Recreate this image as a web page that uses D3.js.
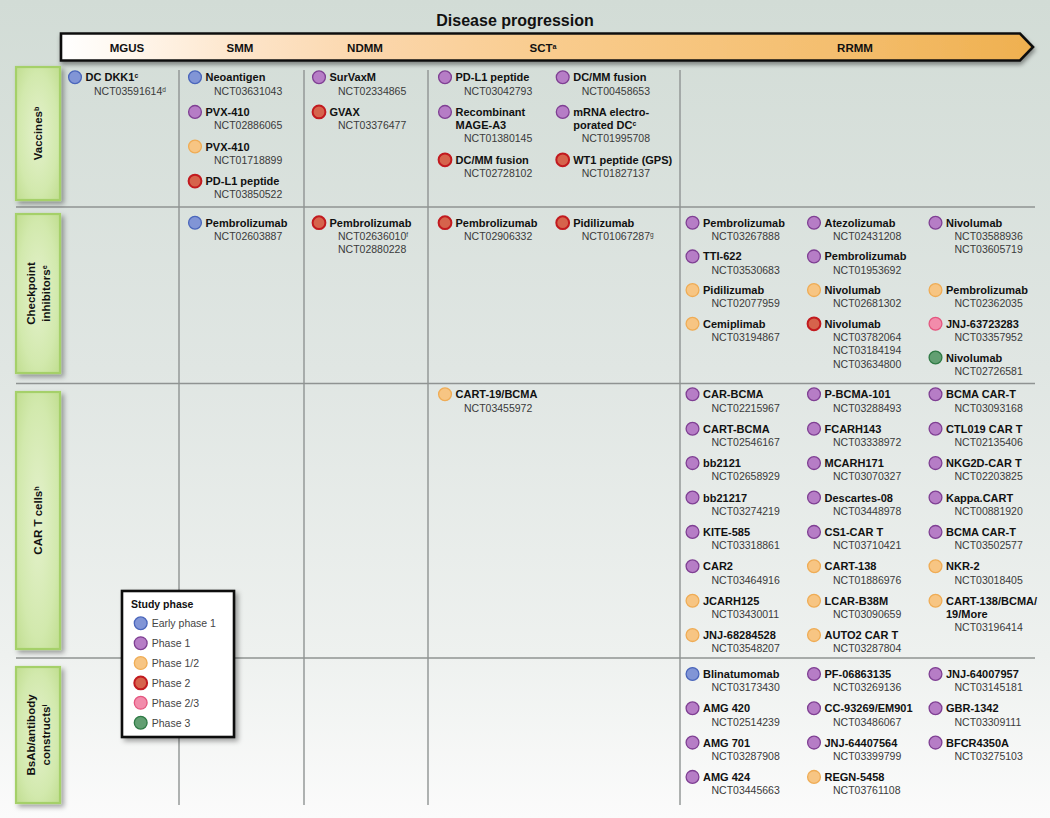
<!DOCTYPE html>
<html><head><meta charset="utf-8">
<script src="https://cdn.jsdelivr.net/npm/d3@7"></script>
<style>body{margin:0;background:#fff}svg{display:block;font-family:"Liberation Sans",Arial,sans-serif}</style>
</head><body><svg id="c" width="1050" height="818"></svg>
<script>
// ---------- DATA ----------
const stages = ["MGUS", "SMM", "NDMM", "SCT", "RRMM"];
const stageLabels = ["MGUS", "SMM", "NDMM", "SCT^a", "RRMM"];
const categories = ["vaccines", "checkpoint", "cart", "bsab"];
const categoryLabels = [["Vaccines^b"], ["Checkpoint", "inhibitors^e"], ["CAR T cells^h"], ["BsAb/antibody", "constructs^i"]];
const phases = ["E1", "P1", "P12", "P2", "P23", "P3"];
const phaseLabels = ["Early phase 1", "Phase 1", "Phase 1/2", "Phase 2", "Phase 2/3", "Phase 3"];

// [stage, sub-column, phase, name lines, NCT ids]
const vaccineTrials = [
  ["MGUS", 0, "E1", ["DC DKK1^c"], ["NCT03591614^d"]],
  ["SMM", 0, "E1", ["Neoantigen"], ["NCT03631043"]],
  ["SMM", 0, "P1", ["PVX-410"], ["NCT02886065"]],
  ["SMM", 0, "P12", ["PVX-410"], ["NCT01718899"]],
  ["SMM", 0, "P2", ["PD-L1 peptide"], ["NCT03850522"]],
  ["NDMM", 0, "P1", ["SurVaxM"], ["NCT02334865"]],
  ["NDMM", 0, "P2", ["GVAX"], ["NCT03376477"]],
  ["SCT", 0, "P1", ["PD-L1 peptide"], ["NCT03042793"]],
  ["SCT", 0, "P1", ["Recombinant", "MAGE-A3"], ["NCT01380145"]],
  ["SCT", 0, "P2", ["DC/MM fusion"], ["NCT02728102"]],
  ["SCT", 1, "P1", ["DC/MM fusion"], ["NCT00458653"]],
  ["SCT", 1, "P1", ["mRNA electro-", "porated DC^c"], ["NCT01995708"]],
  ["SCT", 1, "P2", ["WT1 peptide (GPS)"], ["NCT01827137"]]
];
const checkpointTrials = [
  ["SMM", 0, "E1", ["Pembrolizumab"], ["NCT02603887"]],
  ["NDMM", 0, "P2", ["Pembrolizumab"], ["NCT02636010^f", "NCT02880228"]],
  ["SCT", 0, "P2", ["Pembrolizumab"], ["NCT02906332"]],
  ["SCT", 1, "P2", ["Pidilizumab"], ["NCT01067287^g"]],
  ["RRMM", 0, "P1", ["Pembrolizumab"], ["NCT03267888"]],
  ["RRMM", 0, "P1", ["TTI-622"], ["NCT03530683"]],
  ["RRMM", 0, "P12", ["Pidilizumab"], ["NCT02077959"]],
  ["RRMM", 0, "P12", ["Cemiplimab"], ["NCT03194867"]],
  ["RRMM", 1, "P1", ["Atezolizumab"], ["NCT02431208"]],
  ["RRMM", 1, "P1", ["Pembrolizumab"], ["NCT01953692"]],
  ["RRMM", 1, "P12", ["Nivolumab"], ["NCT02681302"]],
  ["RRMM", 1, "P2", ["Nivolumab"], ["NCT03782064", "NCT03184194", "NCT03634800"]],
  ["RRMM", 2, "P1", ["Nivolumab"], ["NCT03588936", "NCT03605719"]],
  ["RRMM", 2, "P12", ["Pembrolizumab"], ["NCT02362035"]],
  ["RRMM", 2, "P23", ["JNJ-63723283"], ["NCT03357952"]],
  ["RRMM", 2, "P3", ["Nivolumab"], ["NCT02726581"]]
];
const carTTrials = [
  ["SCT", 0, "P12", ["CART-19/BCMA"], ["NCT03455972"]],
  ["RRMM", 0, "P1", ["CAR-BCMA"], ["NCT02215967"]],
  ["RRMM", 0, "P1", ["CART-BCMA"], ["NCT02546167"]],
  ["RRMM", 0, "P1", ["bb2121"], ["NCT02658929"]],
  ["RRMM", 0, "P1", ["bb21217"], ["NCT03274219"]],
  ["RRMM", 0, "P1", ["KITE-585"], ["NCT03318861"]],
  ["RRMM", 0, "P1", ["CAR2"], ["NCT03464916"]],
  ["RRMM", 0, "P12", ["JCARH125"], ["NCT03430011"]],
  ["RRMM", 0, "P12", ["JNJ-68284528"], ["NCT03548207"]],
  ["RRMM", 1, "P1", ["P-BCMA-101"], ["NCT03288493"]],
  ["RRMM", 1, "P1", ["FCARH143"], ["NCT03338972"]],
  ["RRMM", 1, "P1", ["MCARH171"], ["NCT03070327"]],
  ["RRMM", 1, "P1", ["Descartes-08"], ["NCT03448978"]],
  ["RRMM", 1, "P1", ["CS1-CAR T"], ["NCT03710421"]],
  ["RRMM", 1, "P12", ["CART-138"], ["NCT01886976"]],
  ["RRMM", 1, "P12", ["LCAR-B38M"], ["NCT03090659"]],
  ["RRMM", 1, "P12", ["AUTO2 CAR T"], ["NCT03287804"]],
  ["RRMM", 2, "P1", ["BCMA CAR-T"], ["NCT03093168"]],
  ["RRMM", 2, "P1", ["CTL019 CAR T"], ["NCT02135406"]],
  ["RRMM", 2, "P1", ["NKG2D-CAR T"], ["NCT02203825"]],
  ["RRMM", 2, "P1", ["Kappa.CART"], ["NCT00881920"]],
  ["RRMM", 2, "P1", ["BCMA CAR-T"], ["NCT03502577"]],
  ["RRMM", 2, "P12", ["NKR-2"], ["NCT03018405"]],
  ["RRMM", 2, "P12", ["CART-138/BCMA/", "19/More"], ["NCT03196414"]]
];
const bsabTrials = [
  ["RRMM", 0, "E1", ["Blinatumomab"], ["NCT03173430"]],
  ["RRMM", 0, "P1", ["AMG 420"], ["NCT02514239"]],
  ["RRMM", 0, "P1", ["AMG 701"], ["NCT03287908"]],
  ["RRMM", 0, "P1", ["AMG 424"], ["NCT03445663"]],
  ["RRMM", 1, "P1", ["PF-06863135"], ["NCT03269136"]],
  ["RRMM", 1, "P1", ["CC-93269/EM901"], ["NCT03486067"]],
  ["RRMM", 1, "P1", ["JNJ-64407564"], ["NCT03399799"]],
  ["RRMM", 1, "P12", ["REGN-5458"], ["NCT03761108"]],
  ["RRMM", 2, "P1", ["JNJ-64007957"], ["NCT03145181"]],
  ["RRMM", 2, "P1", ["GBR-1342"], ["NCT03309111"]],
  ["RRMM", 2, "P1", ["BFCR4350A"], ["NCT03275103"]]
];
const trialsByCategory = [vaccineTrials, checkpointTrials, carTTrials, bsabTrials];

// ---------- STYLE / LAYOUT ----------
const phaseFill = d3.scaleOrdinal(phases, ["#8195d6", "#b67dc6", "#f7c583", "#d6634c", "#f28cab", "#629f72"]);
const phaseStroke = d3.scaleOrdinal(phases, ["#4a66bb", "#7f3f93", "#efac55", "#c21a1f", "#e4567f", "#2f7a45"]);

const colLeft = d3.scaleOrdinal(stages, [61, 179, 304, 428, 680]);
const markX = d3.scaleOrdinal(stages, [75, 195, 319, 445, 692.5]);
const subW = d3.scaleOrdinal(stages, [0, 0, 0, 117.7, 121.5]);
const stageLabelX = d3.scaleOrdinal(stages, [127, 240, 365, 543, 855]);

const rowLines = [207, 383.5, 658];
const rowFirst = d3.scaleOrdinal(categories, [77.3, 222.7, 394.3, 674]);
const rowPitch = d3.scaleOrdinal(categories, [34.6, 33.7, 34.4, 34.3]);
const labelBox = d3.scaleOrdinal(categories, [[67, 200], [214, 373], [392, 649], [667, 803]]);
const lineH = 13.3;
const gridTop = 70, gridBottom = 805, gridLeft = 16, gridRight = 1035;

const svg = d3.select("#c");
const defs = svg.append("defs");

const bg = defs.append("linearGradient").attr("id", "bg").attr("x1", 0).attr("y1", 0).attr("x2", 0).attr("y2", 1);
bg.append("stop").attr("offset", 0).attr("stop-color", "#d2dcd6");
bg.append("stop").attr("offset", 0.45).attr("stop-color", "#e0e6e3");
bg.append("stop").attr("offset", 0.8).attr("stop-color", "#eef1ef");
bg.append("stop").attr("offset", 1).attr("stop-color", "#fbfbfb");

const ag = defs.append("linearGradient").attr("id", "arrowG").attr("x1", 0).attr("y1", 0).attr("x2", 1).attr("y2", 0);
[[0, "#ffffff"], [0.06, "#fff8f0"], [0.2, "#fde3c6"], [0.32, "#fbd6ab"], [0.5, "#f9cc8e"], [0.8, "#f4be6e"], [1, "#efb04f"]]
  .forEach(([o, c]) => ag.append("stop").attr("offset", o).attr("stop-color", c));

const lg = defs.append("radialGradient").attr("id", "labG").attr("cx", 0.5).attr("cy", 0.5).attr("r", 0.75);
lg.append("stop").attr("offset", 0).attr("stop-color", "#e4f1cc");
lg.append("stop").attr("offset", 0.6).attr("stop-color", "#d2e9ad");
lg.append("stop").attr("offset", 1).attr("stop-color", "#bddb8a");

const sh = defs.append("filter").attr("id", "shadow").attr("x", "-20%").attr("y", "-20%").attr("width", "150%").attr("height", "150%");
sh.append("feDropShadow").attr("dx", 3).attr("dy", 3).attr("stdDeviation", 2.5).attr("flood-color", "#000").attr("flood-opacity", 0.35);
const sh2 = defs.append("filter").attr("id", "shadow2").attr("x", "-10%").attr("y", "-30%").attr("width", "120%").attr("height", "180%");
sh2.append("feDropShadow").attr("dx", 1).attr("dy", 3).attr("stdDeviation", 2).attr("flood-color", "#000").attr("flood-opacity", 0.4);

svg.append("rect").attr("width", 1050).attr("height", 818).attr("fill", "url(#bg)");

// rich text with ^x superscripts
function rich(sel, str) {
  const parts = str.split(/\^(\w)/);
  parts.forEach((p, i) => {
    if (!p) return;
    if (i % 2 === 1) {
      sel.append("tspan").attr("dy", "-0.42em").attr("font-size", "0.62em").text(p);
      if (i + 1 < parts.length && parts[i + 1]) sel.append("tspan").attr("dy", "0.42em").text("");
    } else {
      sel.append("tspan").text(p);
    }
  });
  return sel;
}

// title
svg.append("text").attr("x", 515).attr("y", 25.5).attr("text-anchor", "middle")
  .attr("font-size", 16).attr("font-weight", "bold").attr("fill", "#111").text("Disease progression");

// arrow
svg.append("path").attr("d", "M61,33.5 H1020 L1033,47 L1020,60.5 H61 Z")
  .attr("fill", "url(#arrowG)").attr("stroke", "#111").attr("stroke-width", 2.6)
  .attr("stroke-linejoin", "miter").attr("filter", "url(#shadow2)");
stages.forEach((s, i) => {
  rich(svg.append("text").attr("x", stageLabelX(s)).attr("y", 51.5).attr("text-anchor", "middle")
    .attr("font-size", 11.5).attr("font-weight", "bold").attr("fill", "#111"), stageLabels[i]);
});

// grid lines
const gl = svg.append("g").attr("stroke", "#8f9392").attr("stroke-width", 1.4);
stages.slice(1).forEach(s => gl.append("line").attr("x1", colLeft(s)).attr("x2", colLeft(s)).attr("y1", gridTop).attr("y2", gridBottom));
rowLines.forEach(y => gl.append("line").attr("x1", gridLeft).attr("x2", gridRight).attr("y1", y).attr("y2", y));

// row labels
categories.forEach((c, ci) => {
  const [y0, y1] = labelBox(c);
  svg.append("rect").attr("x", 16).attr("y", y0).attr("width", 44).attr("height", y1 - y0)
    .attr("fill", "url(#labG)").attr("stroke", "#a5d069").attr("stroke-width", 2.2).attr("filter", "url(#shadow)");
  const lines = categoryLabels[ci];
  const cy = (y0 + y1) / 2;
  lines.forEach((l, li) => {
    const cx = 38 + (li - (lines.length - 1) / 2) * 15;
    rich(svg.append("text").attr("transform", `translate(${cx + 4},${cy}) rotate(-90)`)
      .attr("text-anchor", "middle").attr("font-size", 11.5).attr("font-weight", "bold").attr("fill", "#111"), l);
  });
});

// trial entries
categories.forEach((c, ci) => {
  const trials = trialsByCategory[ci].map(t => ({ stage: t[0], sub: t[1], phase: t[2], names: t[3], ncts: t[4] }));
  const groups = d3.group(trials, d => d.stage + "|" + d.sub);
  groups.forEach(list => {
    const first = rowFirst(c), pitch = rowPitch(c);
    let y = first;
    list.forEach(t => {
      t.x = markX(t.stage) + t.sub * subW(t.stage);
      t.y = y;
      const n = t.names.length + t.ncts.length;
      if (t.stage === "RRMM") {
        const next = y + n * lineH + 7.5;
        y = first + Math.ceil((next - first) / pitch - 0.15) * pitch;
      } else {
        y += pitch + (n - 2) * lineH;
      }
    });
  });
  const g = svg.append("g").selectAll("g").data(trials).join("g")
    .attr("transform", d => `translate(${d.x},${d.y})`);
  g.append("circle").attr("r", 6.4)
    .attr("fill", d => phaseFill(d.phase)).attr("stroke", d => phaseStroke(d.phase))
    .attr("stroke-width", d => d.phase === "P2" ? 2 : 1.3);
  g.each(function (d) {
    const el = d3.select(this);
    d.names.forEach((nm, i) => {
      rich(el.append("text").attr("x", 10.5).attr("y", 4 + i * lineH)
        .attr("font-size", 11).attr("font-weight", "bold").attr("fill", "#111"), nm);
    });
    d.ncts.forEach((nc, i) => {
      rich(el.append("text").attr("x", 19).attr("y", 4 + (d.names.length + i) * lineH)
        .attr("font-size", 10.5).attr("fill", "#3a3a3a"), nc);
    });
  });
});

// legend
const lgG = svg.append("g");
lgG.append("rect").attr("x", 122).attr("y", 591).attr("width", 112).attr("height", 146)
  .attr("fill", "#fff").attr("stroke", "#111").attr("stroke-width", 2.6).attr("filter", "url(#shadow)");
lgG.append("text").attr("x", 131).attr("y", 608).attr("font-size", 10.5).attr("font-weight", "bold")
  .attr("fill", "#111").text("Study phase");
const legY = d3.scalePoint(phases, [623.3, 722.7]);
const li = lgG.selectAll("g.li").data(phases).join("g").attr("transform", p => `translate(140.7,${legY(p)})`);
li.append("circle").attr("r", 6.4).attr("fill", p => phaseFill(p)).attr("stroke", p => phaseStroke(p))
  .attr("stroke-width", p => p === "P2" ? 2 : 1.3);
li.append("text").attr("x", 11).attr("y", 4).attr("font-size", 10.5).attr("fill", "#444")
  .text((p, i) => phaseLabels[i]);
</script></body></html>
